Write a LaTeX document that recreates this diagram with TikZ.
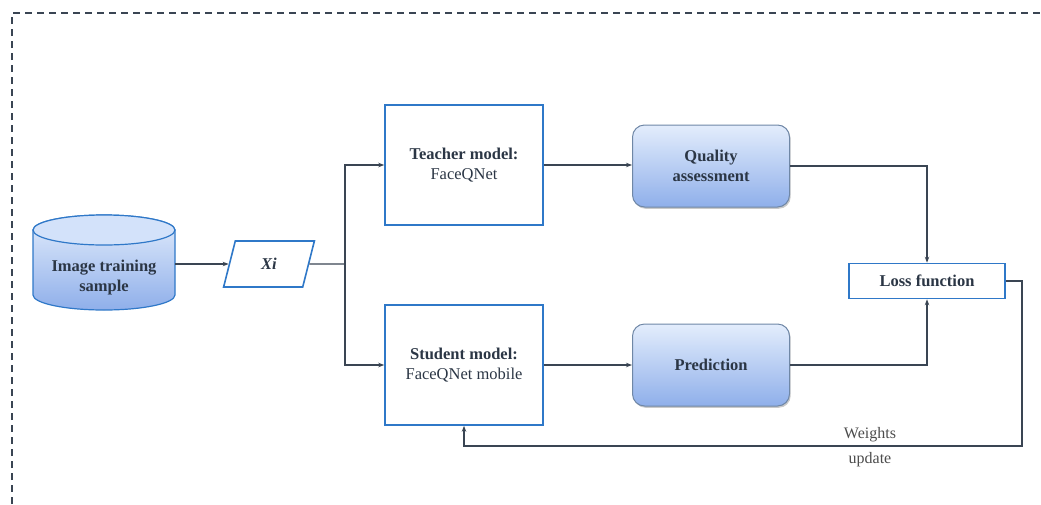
\documentclass[tikz,border=0pt]{standalone}
\usepackage{fontspec}
\setmainfont{Liberation Serif}
\usetikzlibrary{shapes.geometric,arrows.meta,shadows}
\definecolor{ink}{HTML}{2B3645}
\definecolor{wire}{HTML}{3A4553}
\definecolor{edge}{HTML}{2F78C8}
\definecolor{fillTop}{HTML}{E3EDFC}
\definecolor{fillBot}{HTML}{8FAFEA}
\definecolor{capFill}{HTML}{D3E2FA}
\definecolor{roundEdge}{HTML}{6F87A6}
\begin{document}
\begin{tikzpicture}[x=1pt,y=-1pt,
  txt/.style={font=\fontsize{16.5}{20}\selectfont, text=ink, align=center},
  plainbox/.style={txt, draw=edge, line width=1.6pt, fill=white,
    minimum width=158pt, minimum height=120pt},
  softbox/.style={txt, font=\fontsize{16.5}{20}\selectfont\bfseries,
    draw=roundEdge, line width=1pt, rounded corners=12pt,
    top color=fillTop, bottom color=fillBot,
    minimum width=157pt, minimum height=82pt,
    drop shadow={shadow xshift=1.2pt, shadow yshift=-1.8pt, opacity=.3, fill=black!70}},
  lossbox/.style={txt, font=\fontsize{16.5}{20}\selectfont\bfseries,
    draw=edge, line width=1.6pt, fill=white,
    minimum width=156pt, minimum height=35pt},
  xbox/.style={txt, shape=trapezium, trapezium left angle=78, trapezium right angle=102,
    trapezium stretches=true, draw=edge, line width=1.6pt, fill=white,
    minimum width=91pt, minimum height=46pt},
  wireline/.style={draw=wire, line width=1.4pt},
  arrow/.style={wireline, -{Stealth[length=6pt,width=4.5pt]}}
]
\useasboundingbox (0,0) rectangle (1041,504);

% dashed frame
\draw[wire, line width=1.6pt, dash pattern=on 7pt off 5pt] (12,504) -- (12,13) -- (1041,13);

% database cylinder
\path[draw=edge, line width=1.2pt, top color=fillTop, bottom color=fillBot]
  (33,230) -- (33,295) arc[start angle=180, end angle=360, x radius=71pt, y radius=15pt]
  -- (175,230) arc[start angle=0, end angle=180, x radius=71pt, y radius=15pt] -- cycle;
\draw[edge, line width=1.2pt, fill=capFill] (104,230) ellipse [x radius=71pt, y radius=15pt];
\node[txt, font=\fontsize{16.5}{20}\selectfont\bfseries] (sample) at (104,278) {Image training\\sample};
\coordinate (sampleOut) at (175,264);

% nodes
\node[xbox] (xi) at (269,264) {\textbf{\textit{Xi}}};
\node[plainbox] (teacher) at (464,165) {\textbf{Teacher model:}\\FaceQNet};
\node[plainbox] (student) at (464,365) {\textbf{Student model:}\\FaceQNet mobile};
\node[softbox] (quality) at (711,166) {Quality\\assessment};
\node[softbox] (predict) at (711,365) {Prediction};
\node[lossbox] (loss) at (927,281) {Loss function};

% connectors
\coordinate (split) at (345,264);
\coordinate (fbCorner) at (1022,446);
\draw[arrow] (sampleOut) -- (sampleOut -| xi.west);
\draw[wireline] (xi.east) -- (split);
\draw[arrow] (split) |- (teacher.west);
\draw[arrow] (split) |- (student.west);
\draw[arrow] (teacher.east) -- (teacher.east -| quality.west);
\draw[arrow] (student.east) -- (student.east -| predict.west);
\draw[arrow] (quality.east) -| (loss.north);
\draw[arrow] (predict.east) -| (loss.south);
\draw[arrow] (loss.east) -| (fbCorner) -| (student.south);
\node[txt, font=\fontsize{16}{25}\selectfont, text=black!70] (wlabel) at (870,447) {Weights\\update};
\end{tikzpicture}
\end{document}
